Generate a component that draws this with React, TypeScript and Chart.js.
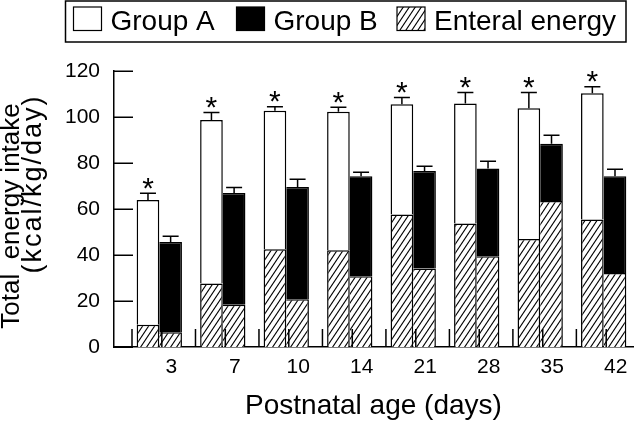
import React, { useEffect, useRef } from 'react';
import { Chart, registerables } from 'chart.js';

Chart.register(...registerables);

const days = ['3', '7', '10', '14', '21', '28', '35', '42'];
const totalA = [63.9, 98.7, 102.7, 102.3, 105.5, 105.9, 103.8, 110.3];
const totalB = [45.7, 67.0, 69.6, 74.2, 76.5, 77.6, 88.4, 74.2];
const enteralA = [9.7, 27.6, 42.5, 42.1, 57.6, 53.7, 47.0, 55.4];
const enteralB = [6.4, 18.4, 20.8, 30.8, 34.1, 39.5, 63.5, 32.2];
const sdA = [2.9, 3.3, 1.8, 1.9, 3.0, 4.8, 6.8, 2.9];
const sdB = [2.5, 2.4, 3.3, 1.8, 2.1, 3.2, 3.7, 3.1];
const significantA = [true, true, true, true, true, true, true, true];
const legendLabels = ['Group A', 'Group B', 'Enteral energy'];
const yTitleLines = ['Total  energy intake', '(kcal/kg/day)'];
const xTitle = 'Postnatal age (days)';
const yMin = 0;
const yMax = 120;
const yStep = 20;

const FONT = '"Liberation Sans", Arial, Helvetica, sans-serif';

function makeHatch(): CanvasPattern | string {
  const c = document.createElement('canvas');
  const w = 6;
  const h = 9;
  c.width = w;
  c.height = h;
  const g = c.getContext('2d');
  if (!g) return '#fff';
  g.fillStyle = '#fff';
  g.fillRect(0, 0, w, h);
  g.strokeStyle = '#000';
  g.lineWidth = 1.1;
  for (let k = -1; k <= 1; k++) {
    g.beginPath();
    g.moveTo(k * w - w, 2 * h);
    g.lineTo(k * w + 2 * w, -h);
    g.stroke();
  }
  const p = g.createPattern(c, 'repeat');
  return p || '#fff';
}

export default function App() {
  const ref = useRef<HTMLCanvasElement | null>(null);

  useEffect(() => {
    const canvas = ref.current;
    if (!canvas) return;
    const hatch = makeHatch();
    const idx = days.map((_, i) => i);

    const decor = {
      id: 'decor',
      afterDatasetsDraw(chart: any) {
        const ctx = chart.ctx as CanvasRenderingContext2D;
        const x = chart.scales.x;
        const y = chart.scales.y;
        const area = chart.chartArea;
        ctx.save();
        ctx.strokeStyle = '#000';
        ctx.fillStyle = '#000';
        ctx.lineWidth = 1.5;
        // inner y ticks
        y.ticks.forEach((t: any) => {
          const py = Math.round(y.getPixelForValue(t.value)) + 0.25;
          ctx.beginPath();
          ctx.moveTo(area.left, py);
          ctx.lineTo(area.left + 19, py);
          ctx.stroke();
        });
        // inner x ticks
        idx.forEach((i) => {
          [i - 0.43, i + 0.04].forEach((v) => {
            const px = x.getPixelForValue(v);
            ctx.beginPath();
            ctx.moveTo(px, area.bottom);
            ctx.lineTo(px, area.bottom - 18);
            ctx.stroke();
          });
        });
        // error bars
        const drawErr = (dsIndex: number, totals: number[], sds: number[], stars: boolean[] | null) => {
          const meta = chart.getDatasetMeta(dsIndex);
          meta.data.forEach((el: any, i: number) => {
            const cx = el.x;
            const yTop = y.getPixelForValue(totals[i]);
            const yErr = y.getPixelForValue(totals[i] + sds[i]);
            ctx.beginPath();
            ctx.moveTo(cx, yTop);
            ctx.lineTo(cx, yErr);
            ctx.moveTo(cx - 8, yErr);
            ctx.lineTo(cx + 8, yErr);
            ctx.stroke();
            if (stars && stars[i]) {
              ctx.font = '30px ' + FONT;
              ctx.textAlign = 'center';
              ctx.textBaseline = 'alphabetic';
              const m = ctx.measureText('*');
              const cy = yErr - 10;
              const base = cy + (m.actualBoundingBoxAscent - m.actualBoundingBoxDescent) / 2;
              ctx.fillText('*', cx, base);
            }
          });
        };
        drawErr(1, totalA, sdA, significantA);
        drawErr(3, totalB, sdB, null);
        ctx.restore();
      },
      afterDraw(chart: any) {
        const ctx = chart.ctx as CanvasRenderingContext2D;
        ctx.save();
        // legend
        ctx.strokeStyle = '#000';
        ctx.lineWidth = 1.5;
        ctx.strokeRect(65.5, 1, 560.5, 41);
        const fills: (string | CanvasPattern)[] = ['#fff', '#000', hatch];
        const sx = [73.5, 236.5, 397];
        ctx.font = '28px ' + FONT;
        ctx.textAlign = 'left';
        ctx.textBaseline = 'alphabetic';
        legendLabels.forEach((lab, i) => {
          ctx.fillStyle = fills[i] as any;
          ctx.fillRect(sx[i], 7, 28, 23.5);
          ctx.lineWidth = 1.2;
          ctx.strokeRect(sx[i], 7, 28, 23.5);
          ctx.fillStyle = '#000';
          ctx.fillText(lab, sx[i] + 37, 29.5);
        });
        // y title
        ctx.fillStyle = '#000';
        ctx.textAlign = 'center';
        ctx.textBaseline = 'middle';
        const pos = [
          [12, 216, 0, 26],
          [34, 184, 2, 27],
        ];
        yTitleLines.forEach((line, i) => {
          ctx.save();
          ctx.font = pos[i][3] + 'px ' + FONT;
          ctx.translate(pos[i][0], pos[i][1]);
          ctx.rotate(-Math.PI / 2);
          (ctx as any).letterSpacing = pos[i][2] + 'px';
          ctx.fillText(line, 0, 0);
          ctx.restore();
        });
        ctx.restore();
      },
    };

    const pt = (arr: number[]) => arr.map((v, i) => ({ x: i, y: v }));
    const upperA = totalA.map((v, i) => v - enteralA[i]);
    const upperB = totalB.map((v, i) => v - enteralB[i]);
    const bwA = 1.5;
    const bwB = { top: 1.5, right: 1.5, left: 0, bottom: 0 };

    const chart = new Chart(canvas, {
      type: 'bar',
      data: {
        datasets: [
          { label: 'Enteral A', stack: 'A', data: pt(enteralA) as any, backgroundColor: hatch as any, borderColor: '#000', borderWidth: bwA },
          { label: legendLabels[0], stack: 'A', data: pt(upperA) as any, backgroundColor: '#fff', borderColor: '#000', borderWidth: bwA },
          { label: 'Enteral B', stack: 'B', data: pt(enteralB) as any, backgroundColor: hatch as any, borderColor: '#000', borderWidth: bwB as any },
          { label: legendLabels[1], stack: 'B', data: pt(upperB) as any, backgroundColor: '#000', borderColor: '#000', borderWidth: bwB as any },
        ],
      },
      options: {
        responsive: false,
        animation: false,
        devicePixelRatio: 1,
        layout: { padding: { top: 71, right: 7, bottom: 0, left: 0 } },
        datasets: { bar: { categoryPercentage: 0.7136, barPercentage: 1 } } as any,
        plugins: { legend: { display: false }, tooltip: { enabled: false } },
        scales: {
          x: {
            type: 'linear',
            min: -0.7136,
            max: 7.462,
            offset: false,
            grid: { display: false, drawTicks: false, offset: false },
            border: { display: true, color: '#000', width: 1.5 },
            ticks: {
              stepSize: 1,
              includeBounds: false,
              autoSkip: false,
              maxRotation: 0,
              labelOffset: 12,
              padding: 8,
              color: '#000',
              font: { size: 21, family: FONT },
              callback: (v: any) => (days[v as number] !== undefined ? days[v as number] : ''),
            },
            title: { display: true, text: xTitle, color: '#000', font: { size: 28, family: FONT }, padding: { top: 0, bottom: 0 } },
            afterFit: (s: any) => {
              s.height = 76;
            },
          } as any,
          y: {
            stacked: true,
            min: yMin,
            max: yMax,
            grid: { display: false, drawTicks: false },
            border: { display: true, color: '#000', width: 1.5 },
            ticks: { stepSize: yStep, padding: 14, color: '#000', font: { size: 21, family: FONT } },
            afterFit: (s: any) => {
              s.width = 114;
            },
          } as any,
        },
      },
      plugins: [decor],
    });
    return () => chart.destroy();
  }, []);

  return (
    <div style={{ position: 'fixed', left: 0, top: 0, width: 640, height: 423, background: '#fff' }}>
      <canvas ref={ref} width={640} height={423} style={{ display: 'block', width: 640, height: 423 }} />
    </div>
  );
}
